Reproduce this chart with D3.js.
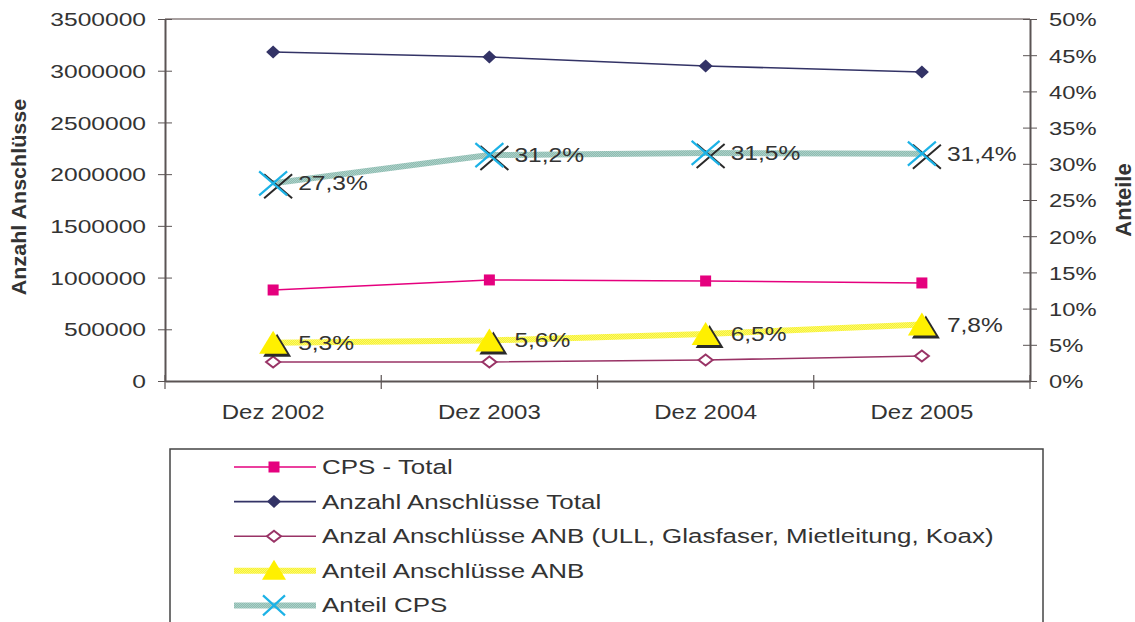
<!DOCTYPE html>
<html>
<head>
<meta charset="utf-8">
<script src="https://cdn.jsdelivr.net/npm/d3@7"></script>
<style>
  body { margin: 0; background: #fff; }
  text { font-family: "Liberation Sans", Arial, sans-serif; fill: #333; }
</style>
</head>
<body>
<svg id="chart" width="1135" height="622"></svg>
<script>
// Daten
const categories = ["Dez 2002", "Dez 2003", "Dez 2004", "Dez 2005"];
const cpsTotal = [880000, 977000, 967000, 948000];
const anschluesseTotal = [3181000, 3133000, 3046000, 2988000];
const anschluesseANB = [184000, 184000, 203000, 242000];
const anteilANB = [0.053, 0.056, 0.065, 0.078];
const anteilCPS = [0.273, 0.312, 0.315, 0.314];
const leftTicks = [0, 500000, 1000000, 1500000, 2000000, 2500000, 3000000, 3500000];
const rightTicks = [0, 0.05, 0.1, 0.15, 0.2, 0.25, 0.3, 0.35, 0.4, 0.45, 0.5];
const legendLabels = [
    "CPS - Total",
    "Anzahl Anschlüsse Total",
    "Anzal Anschlüsse ANB (ULL, Glasfaser, Mietleitung, Koax)",
    "Anteil Anschlüsse ANB",
    "Anteil CPS"
];

const pxLeft = 165, pxRight = 1030, pxTop = 19, pxBottom = 381;
const svg = d3.select("#chart");

let scX = d3.scaleBand().domain(categories).range([pxLeft, pxRight]).padding(0);
let scL = d3.scaleLinear().domain([0, 3500000]).range([pxBottom, pxTop]);
let scR = d3.scaleLinear().domain([0, 0.5]).range([pxBottom, pxTop]);
const cx = (i) => scX(categories[i]) + scX.bandwidth() / 2;

// Muster für die dicken Linien
const defs = svg.append("defs");
function pattern(id, c1, c2) {
    const p = defs.append("pattern").attr("id", id)
        .attr("width", 2).attr("height", 2).attr("patternUnits", "userSpaceOnUse");
    p.append("rect").attr("width", 2).attr("height", 2).attr("fill", c1);
    p.append("rect").attr("width", 1).attr("height", 1).attr("fill", c2);
    p.append("rect").attr("x", 1).attr("y", 1).attr("width", 1).attr("height", 1).attr("fill", c2);
}
pattern("patYellow", "#f7f230", "#fbf870");
pattern("patTeal", "#8dbcb1", "#add0c8");

const axisColor = "#5b5454";

// Rahmen oben
svg.append("line").attr("x1", pxLeft).attr("x2", pxRight).attr("y1", pxTop).attr("y2", pxTop)
    .attr("stroke", "#8a7f7f").attr("stroke-width", 1.5);

// linke Achse
const sxL = 1.33;
const gL = svg.append("g").attr("transform", `translate(${pxLeft},0)`)
    .call(d3.axisLeft(scL).tickValues(leftTicks).tickFormat(d3.format("d")).tickSizeOuter(0));
gL.select(".domain").attr("stroke", axisColor).attr("stroke-width", 2);
gL.selectAll(".tick line").attr("x1", 7).attr("x2", -7).attr("stroke", axisColor);
gL.selectAll(".tick text").attr("x", -19 / sxL).attr("dy", "0.36em")
    .attr("transform", `scale(${sxL},1)`)
    .style("font-size", "18.5px").style("font-family", "Liberation Sans, Arial, sans-serif").attr("fill", "#333");

// rechte Achse
const sxR = 1.25;
const gR = svg.append("g").attr("transform", `translate(${pxRight},0)`)
    .call(d3.axisRight(scR).tickValues(rightTicks).tickFormat(d3.format(".0%")).tickSizeOuter(0));
gR.select(".domain").attr("stroke", axisColor).attr("stroke-width", 2);
gR.selectAll(".tick line").attr("x1", -7).attr("x2", 7).attr("stroke", axisColor);
gR.selectAll(".tick text").attr("x", 19 / sxR).attr("dy", "0.36em")
    .attr("transform", `scale(${sxR},1)`)
    .style("font-size", "19px").style("font-family", "Liberation Sans, Arial, sans-serif").attr("fill", "#333");

// x-Achse
const gX = svg.append("g").attr("transform", `translate(0,${pxBottom})`)
    .call(d3.axisBottom(scX).tickSize(0).tickSizeOuter(0));
gX.select(".domain").attr("stroke", axisColor).attr("stroke-width", 2);
gX.selectAll(".tick text").attr("y", 0).attr("dy", "38px")
    .attr("transform", "scale(1.2,1)")
    .style("font-size", "20px").style("font-family", "Liberation Sans, Arial, sans-serif").attr("fill", "#333");
// Striche an den Kategoriegrenzen
gX.selectAll("line.sep")
    .data(categories.concat(["end"])).enter().append("line")
    .attr("class", "sep")
    .attr("x1", (d, i) => pxLeft + i * scX.bandwidth())
    .attr("x2", (d, i) => pxLeft + i * scX.bandwidth())
    .attr("y1", -6).attr("y2", 8).attr("stroke", axisColor).attr("stroke-width", 1.2);

// Achsentitel
svg.append("text")
    .attr("transform", "translate(26,197) rotate(-90) scale(1.05,1)")
    .attr("text-anchor", "middle").style("font-size", "20.5px").style("font-weight", "bold")
    .text("Anzahl Anschlüsse");
svg.append("text")
    .attr("transform", "translate(1131,200) rotate(-90)")
    .attr("text-anchor", "middle").style("font-size", "22px").style("font-weight", "bold")
    .text("Anteile");

// Marker-Zeichner
const shapes = {
    square: (g, color) => g.append("rect").attr("x", -5.5).attr("y", -5.5).attr("width", 11).attr("height", 11).attr("fill", color),
    diamond: (g, color) => g.append("path").attr("d", "M0,-6.5L7,0L0,6.5L-7,0Z").attr("fill", color),
    openDiamond: (g, color) => g.append("path").attr("d", "M0,-5.5L7,0L0,5.5L-7,0Z").attr("fill", "#fff").attr("stroke", color).attr("stroke-width", 2),
    triangle: (g, color) => {
        g.append("path").attr("d", "M4,-9L18,14L-10,14Z").attr("fill", "#2a2a2a");
        g.append("path").attr("d", "M0,-12L14,11L-14,11Z").attr("fill", color);
    },
    cross: (g, color) => {
        g.append("path").attr("d", "M-9,-9L19,15M19,-9L-9,15").attr("stroke", "#2a2a2a").attr("stroke-width", 2);
        g.append("path").attr("d", "M-14,-12L14,12M14,-12L-14,12").attr("stroke", color).attr("stroke-width", 2.2);
    }
};

const series = [
    { name: legendLabels[0], values: cpsTotal, sc: scL, color: "#e5007e", stroke: "#e5007e", width: 1.5, shape: "square" },
    { name: legendLabels[1], values: anschluesseTotal, sc: scL, color: "#333366", stroke: "#333366", width: 1.6, shape: "diamond" },
    { name: legendLabels[2], values: anschluesseANB, sc: scL, color: "#993366", stroke: "#993366", width: 1.6, shape: "openDiamond" },
    { name: legendLabels[3], values: anteilANB, sc: scR, color: "#fff000", stroke: "url(#patYellow)", width: 6, shape: "triangle", labels: true },
    { name: legendLabels[4], values: anteilCPS, sc: scR, color: "#1cb2e6", stroke: "url(#patTeal)", width: 6, shape: "cross", labels: true }
];

// Zeichenreihenfolge wie im Bild
[2, 0, 1, 3, 4].forEach(k => {
    const s = series[k];
    const g = svg.append("g");
    const lineMaker = d3.line().x((d, i) => cx(i)).y(d => s.sc(d));
    g.append("path").attr("d", lineMaker(s.values))
        .attr("fill", "none").attr("stroke", s.stroke).attr("stroke-width", s.width);
    s.values.forEach((v, i) => {
        const m = g.append("g").attr("transform", `translate(${cx(i)},${s.sc(v)})`);
        shapes[s.shape](m, s.color);
    });
    if (s.labels) {
        g.selectAll("text.lbl").data(s.values).enter().append("text")
            .attr("class", "lbl")
            .attr("transform", (d, i) => `translate(${cx(i) + 25},${s.sc(d) + 7}) scale(1.17,1)`)
            .style("font-size", "21px")
            .text(d => d3.format(".1f")(d * 100).replace(".", ",") + "%");
    }
});

// Legende
const lg = svg.append("g");
lg.append("rect").attr("x", 170).attr("y", 449).attr("width", 873).attr("height", 200)
    .attr("fill", "none").attr("stroke", "#444").attr("stroke-width", 1.5);
series.forEach((s, i) => {
    const y = 467 + i * 34.6;
    lg.append("line").attr("x1", 234).attr("x2", 316).attr("y1", y).attr("y2", y)
        .attr("stroke", s.stroke).attr("stroke-width", s.width);
    const m = lg.append("g").attr("transform", `translate(274,${y})`);
    if (s.shape === "triangle") {
        m.append("path").attr("d", "M0,-11L12,9L-12,9Z").attr("fill", s.color);
    } else if (s.shape === "cross") {
        m.append("path").attr("d", "M-11,-10L11,10M11,-10L-11,10").attr("stroke", s.color).attr("stroke-width", 2.2);
    } else {
        shapes[s.shape](m, s.color);
    }
    lg.append("text").attr("transform", `translate(322,${y + 7}) scale(1.33,1)`)
        .style("font-size", "19.5px").text(s.name);
});
</script>
</body>
</html>
